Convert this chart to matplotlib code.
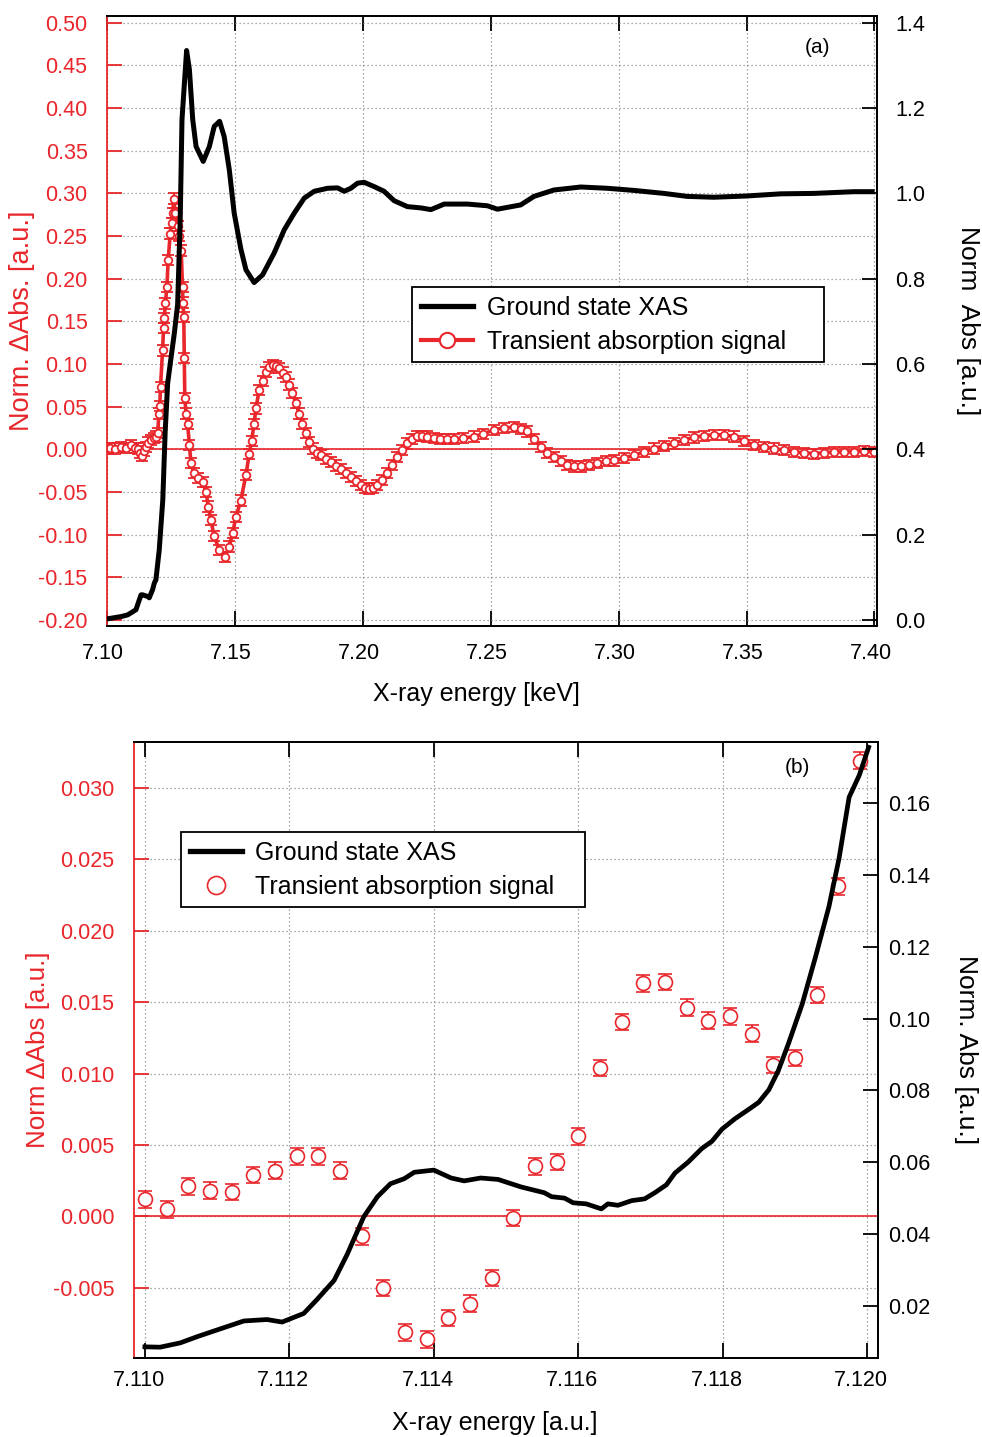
import numpy as np
import matplotlib.pyplot as plt
from matplotlib.lines import Line2D
from matplotlib.transforms import ScaledTranslation

plt.rcParams['font.family'] = ['Liberation Sans', 'DejaVu Sans']
plt.rcParams['axes.unicode_minus'] = False

RED = '#e8262b'

# ---- panel (a): ground state XAS (right axis) ----
gs_a_e = [7.1004, 7.1055, 7.1081, 7.1113, 7.1126, 7.1133, 7.1139, 7.1159, 7.1165, 7.1178,
          7.1185, 7.1191, 7.1204, 7.1218, 7.1227, 7.1237, 7.1250, 7.1263, 7.1276, 7.1286,
          7.1293, 7.1311, 7.1322, 7.1335, 7.1348, 7.1376, 7.1400, 7.1419, 7.1440, 7.1458,
          7.1478, 7.1497, 7.1523, 7.1543, 7.1575, 7.1608, 7.1653, 7.1693, 7.1732, 7.1771,
          7.1810, 7.1862, 7.1901, 7.1927, 7.1953, 7.1979, 7.2005, 7.2044, 7.2083, 7.2122,
          7.2174, 7.2227, 7.2266, 7.2318, 7.2409, 7.2487, 7.2526, 7.2617, 7.2669, 7.2747,
          7.2852, 7.2956, 7.3060, 7.3177, 7.3268, 7.3372, 7.3502, 7.3633, 7.3763, 7.3919,
          7.3991]
gs_a = [0.003, 0.008, 0.012, 0.024, 0.047, 0.059, 0.059, 0.055, 0.052, 0.071,
        0.087, 0.094, 0.164, 0.282, 0.438, 0.555, 0.614, 0.672, 0.740, 0.938,
        1.173, 1.335, 1.290, 1.173, 1.110, 1.075, 1.110, 1.157, 1.169, 1.133,
        1.055, 0.954, 0.870, 0.821, 0.791, 0.809, 0.860, 0.915, 0.954, 0.989,
        1.005, 1.012, 1.013, 1.005, 1.012, 1.024, 1.026, 1.016, 1.005, 0.983,
        0.969, 0.966, 0.962, 0.975, 0.975, 0.971, 0.963, 0.973, 0.993, 1.008,
        1.015, 1.012, 1.007, 1.000, 0.993, 0.991, 0.994, 0.999, 1.000, 1.004,
        1.004]

# ---- panel (a): transient signal (left axis) ----
tr_a_e = [7.1004, 7.1010, 7.1030, 7.1055, 7.1075, 7.1094, 7.1110, 7.1120, 7.1128, 7.1136,
          7.1144, 7.1152, 7.1162, 7.1172, 7.1182, 7.1191, 7.1198, 7.1203, 7.1206, 7.1209,
          7.1217, 7.1221, 7.1224, 7.1228, 7.1234, 7.1239, 7.1247, 7.1252, 7.1257, 7.1260,
          7.1267, 7.1276, 7.1282, 7.1290, 7.1295, 7.1297, 7.1300, 7.1302, 7.1304, 7.1309,
          7.1315, 7.1322, 7.1328, 7.1339, 7.1354, 7.1374, 7.1387, 7.1396, 7.1406, 7.1419,
          7.1439, 7.1461, 7.1478, 7.1491, 7.1504, 7.1523, 7.1543, 7.1556, 7.1565, 7.1575,
          7.1582, 7.1595, 7.1608, 7.1621, 7.1634, 7.1647, 7.1660, 7.1673, 7.1686, 7.1699,
          7.1712, 7.1725, 7.1738, 7.1751, 7.1764, 7.1777, 7.1790, 7.1804, 7.1820, 7.1836,
          7.1855, 7.1875, 7.1894, 7.1914, 7.1933, 7.1953, 7.1972, 7.1992, 7.2010, 7.2025,
          7.2040, 7.2057, 7.2075, 7.2096, 7.2115, 7.2135, 7.2155, 7.2174, 7.2194, 7.2213,
          7.2232, 7.2252, 7.2278, 7.2300, 7.2330, 7.2357, 7.2390, 7.2435, 7.2470, 7.2513,
          7.2550, 7.2591, 7.2620, 7.2643, 7.2670, 7.2695, 7.2720, 7.2747, 7.2775, 7.2799,
          7.2825, 7.2852, 7.2885, 7.2917, 7.2950, 7.2982, 7.3020, 7.3060, 7.3100, 7.3138,
          7.3177, 7.3216, 7.3255, 7.3294, 7.3333, 7.3372, 7.3410, 7.3450, 7.3490, 7.3528,
          7.3567, 7.3607, 7.3646, 7.3685, 7.3724, 7.3763, 7.3802, 7.3841, 7.3880, 7.3919,
          7.3958, 7.3997]
tr_a = [0.001, 0.002, 0.001, 0.003, 0.002, 0.005, 0.002, 0.001, -0.004, -0.008,
        -0.002, 0.003, 0.008, 0.011, 0.013, 0.015, 0.019, 0.042, 0.051, 0.073,
        0.116, 0.142, 0.154, 0.171, 0.190, 0.222, 0.253, 0.265, 0.277, 0.294,
        0.277, 0.262, 0.250, 0.233, 0.190, 0.172, 0.155, 0.107, 0.060, 0.042,
        0.030, 0.005, -0.016, -0.028, -0.034, -0.038, -0.050, -0.067, -0.083, -0.102,
        -0.118, -0.126, -0.114, -0.098, -0.079, -0.060, -0.030, -0.005, 0.010, 0.030,
        0.048, 0.070, 0.080, 0.091, 0.096, 0.099, 0.098, 0.095, 0.090, 0.085,
        0.076, 0.066, 0.054, 0.042, 0.030, 0.019, 0.009, 0.001, -0.004, -0.007,
        -0.011, -0.015, -0.019, -0.023, -0.028, -0.032, -0.037, -0.042, -0.045, -0.046,
        -0.045, -0.042, -0.036, -0.028, -0.018, -0.009, -0.001, 0.007, 0.012, 0.016,
        0.016, 0.015, 0.013, 0.012, 0.012, 0.012, 0.013, 0.015, 0.018, 0.023,
        0.025, 0.026, 0.024, 0.021, 0.012, 0.003, -0.004, -0.009, -0.014, -0.018,
        -0.020, -0.020, -0.018, -0.016, -0.014, -0.013, -0.010, -0.007, -0.003, 0.001,
        0.004, 0.007, 0.011, 0.014, 0.016, 0.017, 0.017, 0.015, 0.010, 0.005,
        0.003, 0.001, -0.001, -0.003, -0.004, -0.005, -0.004, -0.003, -0.003, -0.003,
        -0.002, -0.003]
err_a = 0.006

# ---- panel (b): zoom on pre-edge ----
gs_b_e = [7.11000, 7.11021, 7.11049, 7.11072, 7.11100, 7.11137, 7.11169, 7.11190, 7.11220, 7.11238,
          7.11262, 7.11280, 7.11303, 7.11322, 7.11340, 7.11359, 7.11373, 7.11400, 7.11424, 7.11442,
          7.11465, 7.11489, 7.11521, 7.11553, 7.11563, 7.11581, 7.11593, 7.11611, 7.11632, 7.11641,
          7.11655, 7.11674, 7.11692, 7.11706, 7.11722, 7.11734, 7.11752, 7.11771, 7.11785, 7.11799,
          7.11817, 7.11836, 7.11850, 7.11864, 7.11877, 7.11891, 7.11910, 7.11928, 7.11947, 7.11961,
          7.11975, 7.11989, 7.12002]
gs_b = [0.0086, 0.0085, 0.0097, 0.0114, 0.0133, 0.0158, 0.0162, 0.0155, 0.0179, 0.0217,
        0.0271, 0.0343, 0.0448, 0.0504, 0.0540, 0.0554, 0.0572, 0.0578, 0.0556, 0.0548,
        0.0556, 0.0552, 0.0531, 0.0515, 0.0504, 0.0500, 0.0487, 0.0484, 0.0470, 0.0484,
        0.0480, 0.0493, 0.0498, 0.0515, 0.0537, 0.0570, 0.0600, 0.0638, 0.0658, 0.0692,
        0.0721, 0.0747, 0.0767, 0.0802, 0.0855, 0.0930, 0.1040, 0.1168, 0.1311, 0.1445,
        0.1616, 0.1677, 0.1755]

tr_b_e = [7.1100, 7.1103, 7.1106, 7.1109, 7.1112, 7.1115, 7.1118, 7.1121, 7.1124, 7.1127,
          7.1130, 7.1133, 7.1136, 7.1139, 7.1142, 7.1145, 7.1148, 7.1151, 7.1154, 7.1157,
          7.1160, 7.1163, 7.1166, 7.1169, 7.1172, 7.1175, 7.1178, 7.1181, 7.1184, 7.1187,
          7.1190, 7.1193, 7.1196, 7.1199]
tr_b = [0.0012, 0.0005, 0.0021, 0.0018, 0.0017, 0.0029, 0.0032, 0.0042, 0.0042, 0.0032,
        -0.0014, -0.0050, -0.0081, -0.0086, -0.0071, -0.0061, -0.0043, -0.0001, 0.0035, 0.0038,
        0.0056, 0.0104, 0.0136, 0.0163, 0.0164, 0.0146, 0.0137, 0.0140, 0.0128, 0.0106,
        0.0111, 0.0155, 0.0231, 0.0319]
err_b = 0.00058

labels = ['Ground state XAS', 'Transient absorption signal']

fig = plt.figure(figsize=(9.82, 14.37), dpi=100)
axA = fig.add_axes([0.1090, 0.5644, 0.7841, 0.4245])
axB = fig.add_axes([0.1365, 0.0550, 0.7576, 0.4287])

GRID = dict(color='#8c8c8c', linestyle=(0, (1, 2.2)), linewidth=0.9)
TICK_FS = 15.5


def fmt(nd):
    return lambda x, pos: f'{round(x, 6) + 0.0:.{nd}f}'


def style(ax, ax2, xpad, lpad, rpad, xshift):
    ax.grid(True, **GRID)
    ax.set_axisbelow(True)
    for s in ['top', 'bottom', 'right']:
        ax.spines[s].set_linewidth(1.3)
        ax2.spines[s].set_linewidth(1.3)
    ax.spines['left'].set_color(RED)
    ax.spines['left'].set_linewidth(1.3)
    ax2.spines['left'].set_visible(False)
    ax.tick_params(axis='y', direction='in', length=11, width=1.3, colors=RED,
                   labelsize=TICK_FS, pad=lpad)
    ax.tick_params(axis='x', direction='in', length=11, width=1.3, top=True,
                   labelsize=TICK_FS, pad=xpad)
    ax2.tick_params(axis='y', direction='in', length=11, width=1.3,
                    labelsize=TICK_FS, pad=rpad)
    off = ScaledTranslation(xshift / 100, 0, fig.dpi_scale_trans)
    for lab in ax.get_xticklabels():
        lab.set_transform(lab.get_transform() + off)


# ---------------- panel (a) ----------------
axA.axhline(0, color=RED, lw=1.2, zorder=1)
axA.errorbar(tr_a_e, tr_a, yerr=err_a, color=RED, lw=2.6, marker='o', ms=5.5,
             mfc='white', mec=RED, mew=1.3, ecolor=RED, elinewidth=1.5,
             capsize=4.5, capthick=1.5, zorder=2)
axA2 = axA.twinx()
axA2.plot(gs_a_e, gs_a, color='black', lw=3.6, solid_joinstyle='round')

axA.set_xlim(7.10, 7.401)
axA.set_ylim(-0.207, 0.508)
axA2.set_ylim(-0.014, 1.416)
axA.set_xticks(np.round(np.arange(7.10, 7.401, 0.05), 3))
axA.set_yticks(np.round(np.arange(-0.20, 0.501, 0.05), 3))
axA2.set_yticks(np.round(np.arange(0.0, 1.41, 0.2), 2))
axA.xaxis.set_major_formatter(fmt(2))
axA.yaxis.set_major_formatter(fmt(2))
axA2.yaxis.set_major_formatter(fmt(1))
style(axA, axA2, xpad=12, lpad=14, rpad=13, xshift=-4)

axA.text(-0.110, 0.5, 'Norm. \u0394Abs. [a.u.]', transform=axA.transAxes,
         rotation=90, ha='center', va='center', fontsize=19.5, color=RED)
axA.text(1.118, 0.5, 'Norm  Abs [a.u.]', transform=axA.transAxes,
         rotation=-90, ha='center', va='center', fontsize=19)
axA.text(0.48, -0.111, 'X-ray energy [keV]', transform=axA.transAxes,
         ha='center', va='center', fontsize=18)
axA2.text(0.923, 0.949, '(a)', transform=axA2.transAxes, ha='center',
          va='center', fontsize=15)

hA = [Line2D([], [], color='black', lw=3.8),
      Line2D([], [], color=RED, lw=3, marker='o', ms=11, mfc='white', mec=RED, mew=1.5)]
legA = axA2.legend(hA, labels, loc='upper left', mode='expand',
                   bbox_to_anchor=(0.396, 0.434, 0.535, 0.122), fontsize=18,
                   frameon=True, fancybox=False, framealpha=1, edgecolor='black',
                   borderpad=0.35, handlelength=2.1, handletextpad=0.55,
                   labelspacing=0.4, borderaxespad=0)
legA.get_frame().set_linewidth(1.3)

# ---------------- panel (b) ----------------
axB.axhline(0, color=RED, lw=1.2, zorder=1)
axB.errorbar(tr_b_e, tr_b, yerr=err_b, fmt='o', ms=10, mfc='white', mec=RED,
             mew=1.2, ecolor=RED, elinewidth=1.3, capsize=4.7, capthick=1.6, zorder=2)
axB2 = axB.twinx()
axB2.plot(gs_b_e, gs_b, color='black', lw=3.4, solid_joinstyle='round')

axB.set_xlim(7.10985, 7.12015)
axB.set_ylim(-0.0099, 0.0332)
axB2.set_ylim(0.0055, 0.177)
axB.set_xticks(np.round(np.arange(7.110, 7.1201, 0.002), 4))
axB.set_yticks(np.round(np.arange(-0.005, 0.0301, 0.005), 4))
axB2.set_yticks(np.round(np.arange(0.02, 0.161, 0.02), 3))
axB.xaxis.set_major_formatter(fmt(3))
axB.yaxis.set_major_formatter(fmt(3))
axB2.yaxis.set_major_formatter(fmt(2))
style(axB, axB2, xpad=9, lpad=14, rpad=7, xshift=-6)

axB.text(-0.129, 0.5, 'Norm \u0394Abs [a.u.]', transform=axB.transAxes,
         rotation=90, ha='center', va='center', fontsize=18.7, color=RED)
axB.text(1.118, 0.5, 'Norm. Abs [a.u.]', transform=axB.transAxes,
         rotation=-90, ha='center', va='center', fontsize=19)
axB.text(0.485, -0.1055, 'X-ray energy [a.u.]', transform=axB.transAxes,
         ha='center', va='center', fontsize=18)
axB2.text(0.892, 0.959, '(b)', transform=axB2.transAxes, ha='center',
          va='center', fontsize=15)

hB = [Line2D([], [], color='black', lw=3.8),
      Line2D([], [], ls='none', marker='o', ms=13, mfc='none', mec=RED, mew=1.2)]
legB = axB2.legend(hB, labels, loc='upper left', mode='expand',
                   bbox_to_anchor=(0.063, 0.732, 0.543, 0.122), fontsize=18,
                   frameon=True, fancybox=False, framealpha=1, edgecolor='black',
                   borderpad=0.35, handlelength=2.1, handletextpad=0.5,
                   labelspacing=0.4, borderaxespad=0)
legB.get_frame().set_linewidth(1.3)

fig.savefig('out.png', dpi=100)
